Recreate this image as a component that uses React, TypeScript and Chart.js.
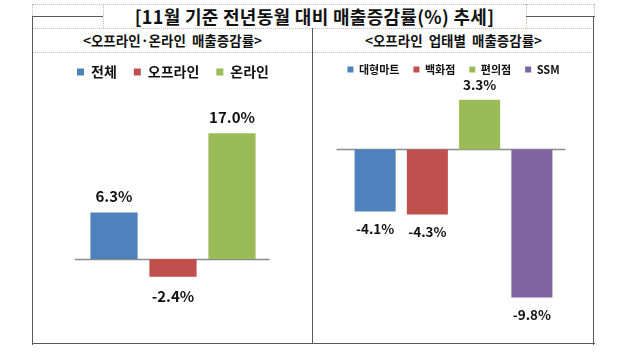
import React, { useEffect, useRef } from 'react';
import { Chart, registerables } from 'chart.js';

Chart.register(...registerables);

// ---- Data ----
const titleText = '[11월 기준 전년동월 대비 매출증감률(%) 추세]';
const leftSubtitle = '<오프라인·온라인 매출증감률>';
const rightSubtitle = '<오프라인 업태별 매출증감률>';

const leftCategories = ['전체', '오프라인', '온라인'];
const leftValues = [6.3, -2.4, 17.0];
const leftColors = ['#4F81BD', '#C0504D', '#9BBB59'];

const rightCategories = ['대형마트', '백화점', '편의점', 'SSM'];
const rightValues = [-4.1, -4.3, 3.3, -9.8];
const rightColors = ['#4F81BD', '#C0504D', '#9BBB59', '#8064A2'];

const FONT = "'Noto Sans CJK KR', 'Noto Sans', sans-serif";

// zero baseline, extended a little beyond the outer bars
const zeroLinePlugin = {
  id: 'zeroLine',
  beforeDatasetsDraw(chart: any, _args: any, opts: any) {
    const y = Math.round(chart.scales.y.getPixelForValue(0)) + 0.5;
    let minX = Infinity;
    let maxX = -Infinity;
    chart.data.datasets.forEach((_ds: any, i: number) => {
      chart.getDatasetMeta(i).data.forEach((el: any) => {
        minX = Math.min(minX, el.x - el.width / 2);
        maxX = Math.max(maxX, el.x + el.width / 2);
      });
    });
    const ctx = chart.ctx;
    ctx.save();
    ctx.strokeStyle = opts.color || '#8c8c8c';
    ctx.lineWidth = opts.width || 1.5;
    ctx.beginPath();
    ctx.moveTo(minX - opts.extendLeft, y);
    ctx.lineTo(maxX + opts.extendRight, y);
    ctx.stroke();
    ctx.restore();
  },
};

const valueLabelPlugin = {
  id: 'valueLabels',
  afterDatasetsDraw(chart: any, _args: any, opts: any) {
    const ctx = chart.ctx;
    ctx.save();
    ctx.font = `${opts.weight || 'bold'} ${opts.size || 14}px ${FONT}`;
    ctx.fillStyle = '#111';
    ctx.textAlign = 'center';
    ctx.textBaseline = 'middle';
    chart.data.datasets.forEach((ds: any, i: number) => {
      const meta = chart.getDatasetMeta(i);
      meta.data.forEach((el: any, j: number) => {
        const v = ds.data[j];
        if (v === null || v === undefined) return;
        const y = v >= 0 ? el.y - opts.posOffset : el.y + opts.negOffset;
        ctx.fillText(v.toFixed(1) + '%', el.x, y);
      });
    });
    ctx.restore();
  },
};

type PanelProps = {
  categories: string[];
  values: number[];
  colors: string[];
  left: number;
  top: number;
  width: number;
  height: number;
  padBottom: number;
  yMin: number;
  yMax: number;
  catPct: number;
  barPct: number;
  legendFont: number;
  legendBox: number;
  legendPad: number;
  labelSize: number;
  labelWeight: string;
  posOffset: number;
  negOffset: number;
  extendLeft: number;
  extendRight: number;
};

function BarPanel(p: PanelProps) {
  const ref = useRef<HTMLCanvasElement | null>(null);
  useEffect(() => {
    if (!ref.current) return;
    const chart = new Chart(ref.current, {
      type: 'bar',
      data: {
        labels: [''],
        datasets: p.categories.map((c, i) => ({
          label: c,
          data: [p.values[i]],
          backgroundColor: p.colors[i],
          borderWidth: 0,
          categoryPercentage: p.catPct,
          barPercentage: p.barPct,
        })),
      },
      options: {
        responsive: false,
        animation: false,
        layout: { padding: { left: 0, right: 0, top: 0, bottom: p.padBottom } },
        scales: {
          x: { display: false },
          y: { display: false, min: p.yMin, max: p.yMax },
        },
        plugins: {
          legend: {
            display: true,
            position: 'top',
            labels: {
              boxWidth: p.legendBox,
              boxHeight: p.legendBox,
              padding: p.legendPad,
              color: '#111',
              font: { family: FONT, size: p.legendFont, weight: 'bold' },
            },
          },
          tooltip: { enabled: false },
          zeroLine: {
            color: '#8c8c8c',
            width: 1.5,
            extendLeft: p.extendLeft,
            extendRight: p.extendRight,
          },
          valueLabels: {
            size: p.labelSize,
            weight: p.labelWeight,
            posOffset: p.posOffset,
            negOffset: p.negOffset,
          },
        } as any,
      },
      plugins: [zeroLinePlugin, valueLabelPlugin],
    } as any);
    return () => chart.destroy();
  }, []);
  return (
    <canvas
      ref={ref}
      width={p.width}
      height={p.height}
      style={{ position: 'absolute', left: p.left, top: p.top, width: p.width, height: p.height }}
    />
  );
}

const line = (style: React.CSSProperties): React.CSSProperties => ({ position: 'absolute', ...style });

export default function App() {
  const frame = '#5a5a5a';
  const dot = '1px dotted #d4b8b8';
  const subStyle = (left: number): React.CSSProperties =>
    line({
      left,
      top: 28,
      width: 281,
      height: 24,
      display: 'flex',
      alignItems: 'center',
      justifyContent: 'center',
      fontSize: 13.5,
      fontWeight: 'bold',
      color: '#111',
      whiteSpace: 'pre',
      wordSpacing: 3,
    });
  return (
    <div
      style={{
        position: 'fixed',
        left: 0,
        top: 0,
        width: 626,
        height: 352,
        background: '#fff',
        overflow: 'hidden',
        fontFamily: FONT,
      }}
    >
      {/* dotted guides */}
      <div style={line({ left: 32, top: 4, width: 562, height: 0, borderTop: dot })} />
      <div style={line({ left: 32, top: 28, width: 562, height: 0, borderTop: dot })} />
      <div style={line({ left: 32, top: 52, width: 562, height: 0, borderTop: dot })} />
      <div style={line({ left: 103, top: 4, width: 0, height: 24, borderLeft: dot })} />
      <div style={line({ left: 526, top: 4, width: 0, height: 24, borderLeft: dot })} />
      <div style={line({ left: 32, top: 4, width: 0, height: 12, borderLeft: dot })} />
      <div style={line({ left: 594, top: 4, width: 0, height: 12, borderLeft: dot })} />

      {/* solid frame */}
      <div style={line({ left: 32, top: 16, width: 71, height: 0, borderTop: `1.5px solid ${frame}` })} />
      <div style={line({ left: 526, top: 16, width: 69, height: 0, borderTop: `1.5px solid ${frame}` })} />
      <div style={line({ left: 32, top: 16, width: 0, height: 329, borderLeft: `1.5px solid ${frame}` })} />
      <div style={line({ left: 593, top: 16, width: 0, height: 329, borderLeft: `1.5px solid ${frame}` })} />
      <div style={line({ left: 32, top: 343, width: 563, height: 0, borderTop: `1.5px solid ${frame}` })} />
      <div style={line({ left: 312, top: 28, width: 0, height: 316, borderLeft: `1.5px solid ${frame}` })} />

      {/* title */}
      <div
        style={line({
          left: 103,
          top: 4,
          width: 423,
          height: 24,
          display: 'flex',
          alignItems: 'center',
          justifyContent: 'center',
          fontSize: 18,
          fontWeight: 'bold',
          color: '#111',
          whiteSpace: 'pre',
          letterSpacing: 0.3,
        })}
      >
        {titleText}
      </div>

      {/* subtitles */}
      <div style={subStyle(32)}>{leftSubtitle}</div>
      <div style={subStyle(313)}>{rightSubtitle}</div>

      <BarPanel
        categories={leftCategories}
        values={leftValues}
        colors={leftColors}
        left={33}
        top={48}
        width={280}
        height={295}
        padBottom={10}
        yMin={-10}
        yMax={23}
        catPct={0.632}
        barPct={0.8}
        legendFont={14}
        legendBox={7}
        legendPad={17}
        labelSize={15}
        labelWeight="bold"
        posOffset={16}
        negOffset={19}
        extendLeft={15.5}
        extendRight={14}
      />
      <BarPanel
        categories={rightCategories}
        values={rightValues}
        colors={rightColors}
        left={313}
        top={50}
        width={281}
        height={293}
        padBottom={5}
        yMin={-12.48}
        yMax={4.27}
        catPct={0.744}
        barPct={0.785}
        legendFont={11}
        legendBox={6}
        legendPad={14}
        labelSize={13.5}
        labelWeight="bold"
        posOffset={15}
        negOffset={17.5}
        extendLeft={18}
        extendRight={13}
      />
    </div>
  );
}
